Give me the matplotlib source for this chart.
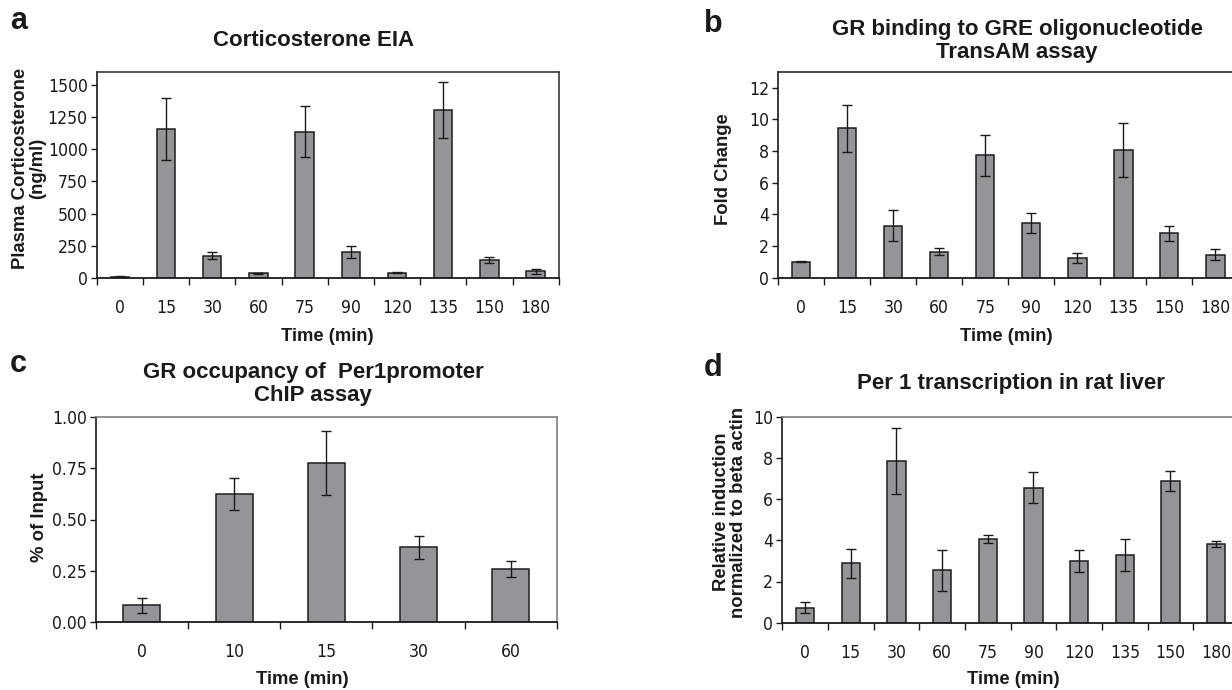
import matplotlib
matplotlib.use("Agg")
import matplotlib.pyplot as plt
import numpy as np
from matplotlib import font_manager
from matplotlib.font_manager import FontProperties

# ---------------- data ----------------
times_a = ["0", "15", "30", "60", "75", "90", "120", "135", "150", "180"]
cort_mean = [8, 1160, 172, 34, 1137, 200, 40, 1310, 140, 50]
cort_err = [4, 240, 28, 5, 198, 46, 4, 218, 22, 21]

times_b = ["0", "15", "30", "60", "75", "90", "120", "135", "150", "180"]
gre_mean = [1.0, 9.42, 3.28, 1.65, 7.72, 3.45, 1.25, 8.07, 2.80, 1.45]
gre_err = [0.03, 1.50, 0.97, 0.24, 1.30, 0.66, 0.30, 1.70, 0.49, 0.36]

times_c = ["0", "10", "15", "30", "60"]
chip_mean = [0.083, 0.624, 0.776, 0.366, 0.258]
chip_err = [0.037, 0.077, 0.155, 0.056, 0.039]

times_d = ["0", "15", "30", "60", "75", "90", "120", "135", "150", "180"]
per1_mean = [0.73, 2.88, 7.85, 2.55, 4.07, 6.56, 3.00, 3.30, 6.86, 3.82]
per1_err = [0.27, 0.72, 1.58, 0.99, 0.19, 0.77, 0.55, 0.77, 0.49, 0.15]

# ---------------- fonts ----------------
plt.rcParams["font.family"] = ["Liberation Sans", "DejaVu Sans"]
narrow = [f for f in font_manager.fontManager.ttflist
          if ("Narrow" in f.name or "Narrow" in f.fname or "Condensed" in f.fname)
          and f.weight in (400, "normal", "regular") and f.style == "normal"]
narrow_pref = [f for f in narrow if "Liberation" in f.name or "Liberation" in f.fname] or narrow
if narrow_pref:
    TICK_FP = FontProperties(fname=narrow_pref[0].fname, size=12.6)
else:
    TICK_FP = FontProperties(family="Liberation Sans", size=12.0)

W, H = 1232, 690
fig = plt.figure(figsize=(W / 100, H / 100), dpi=100)

BAR = "#939598"
EDGE = "#1e1e1e"


def px_axes(x0, y0, x1, y1):
    return fig.add_axes([x0 / W, 1 - y1 / H, (x1 - x0) / W, (y1 - y0) / H])


def panel(ax, labels, mean, err, ymax, yticks, yfmt, frame_col, right_visible=True):
    n = len(labels)
    x = np.arange(n)
    ax.bar(x, mean, width=0.4, color=BAR, edgecolor=EDGE, linewidth=1.1, zorder=2)
    ax.errorbar(x, mean, yerr=err, fmt="none", ecolor="#1a1a1a", elinewidth=1.0,
                capsize=3.6, capthick=1.0, zorder=3)
    ax.set_xlim(-0.5, n - 0.5)
    ax.set_ylim(0, ymax)
    ax.set_yticks(yticks)
    ax.set_yticklabels([yfmt.format(v) for v in yticks])
    ax.set_xticks(x)
    ax.set_xticklabels(labels)
    ax.set_xticks(np.arange(n + 1) - 0.5, minor=True)
    ax.tick_params(axis="x", which="major", length=0, pad=15)
    ax.tick_params(axis="x", which="minor", length=5, width=1.0, direction="out", color="#1a1a1a")
    ax.tick_params(axis="y", which="major", length=4.5, width=1.0, direction="out", pad=2, color="#1a1a1a")
    for lab in ax.get_xticklabels() + ax.get_yticklabels():
        lab.set_fontproperties(TICK_FP)
        lab.set_color("#1a1a1a")
    ax.spines["left"].set_color("#1a1a1a")
    ax.spines["bottom"].set_color("#1a1a1a")
    ax.spines["left"].set_linewidth(1.2)
    ax.spines["bottom"].set_linewidth(1.3)
    ax.spines["top"].set_color(frame_col)
    ax.spines["right"].set_color(frame_col)
    ax.spines["top"].set_linewidth(1.2)
    ax.spines["right"].set_linewidth(1.2)
    ax.spines["right"].set_visible(right_visible)


axA = px_axes(96.7, 72.3, 558.7, 277.7)
panel(axA, times_a, cort_mean, cort_err, 1600, [0, 250, 500, 750, 1000, 1250, 1500], "{:.0f}", "#3a3a3a")

axB = px_axes(778.3, 71.7, 1238.3, 277.7)
panel(axB, times_b, gre_mean, gre_err, 13, [0, 2, 4, 6, 8, 10, 12], "{:.0f}", "#2a2a2a", right_visible=False)

axC = px_axes(95.7, 416.7, 557.0, 622.3)
panel(axC, times_c, chip_mean, chip_err, 1.0, [0.0, 0.25, 0.5, 0.75, 1.0], "{:.2f}", "#7f7f7f")

axD = px_axes(782.3, 416.7, 1239.0, 622.7)
panel(axD, times_d, per1_mean, per1_err, 10, [0, 2, 4, 6, 8, 10], "{:.0f}", "#7f7f7f", right_visible=False)


def ftext(x, y, s, **kw):
    fig.text(x / W, 1 - y / H, s, **kw)


TXT = "#1a1a1a"
TITLE_FS = 16
LAB_FS = 13.3

# panel letters
for lx, ly, l in [(10, 21, "a"), (704, 24, "b"), (10, 364, "c"), (704, 368, "d")]:
    ftext(lx, ly, l, fontsize=22, fontweight="bold", ha="left", va="center", color=TXT)

# titles
ftext(314, 40, "Corticosterone EIA", fontsize=TITLE_FS, fontweight="bold", ha="center", va="center", color=TXT)
ftext(1017, 41, "GR binding to GRE oligonucleotide\nTransAM assay", fontsize=TITLE_FS, fontweight="bold",
      ha="center", va="center", color=TXT, linespacing=1.15)
ftext(313, 384, "GR occupancy of  Per1promoter\nChIP assay", fontsize=TITLE_FS, fontweight="bold",
      ha="center", va="center", color=TXT, linespacing=1.1)
ftext(1011, 384, "Per 1 transcription in rat liver", fontsize=TITLE_FS, fontweight="bold",
      ha="center", va="center", color=TXT)

# y labels
ftext(29, 168, "Plasma Corticosterone\n(ng/ml)", fontsize=LAB_FS, fontweight="bold", rotation=90,
      ha="center", va="center", color=TXT, linespacing=0.95)
ftext(723.5, 169, "Fold Change", fontsize=LAB_FS, fontweight="bold", rotation=90,
      ha="center", va="center", color=TXT)
ftext(39.5, 517, "% of Input", fontsize=LAB_FS, fontweight="bold", rotation=90,
      ha="center", va="center", color=TXT)
ftext(730, 512, "Relative induction\nnormalized to beta actin", fontsize=LAB_FS, fontweight="bold",
      rotation=90, ha="center", va="center", color=TXT, linespacing=0.95)

# x labels
ftext(327, 336, "Time (min)", fontsize=LAB_FS, fontweight="bold", ha="center", va="center", color=TXT)
ftext(1006, 336, "Time (min)", fontsize=LAB_FS, fontweight="bold", ha="center", va="center", color=TXT)
ftext(302, 680, "Time (min)", fontsize=LAB_FS, fontweight="bold", ha="center", va="center", color=TXT)
ftext(1013, 680, "Time (min)", fontsize=LAB_FS, fontweight="bold", ha="center", va="center", color=TXT)

fig.savefig("out.png", dpi=100)
